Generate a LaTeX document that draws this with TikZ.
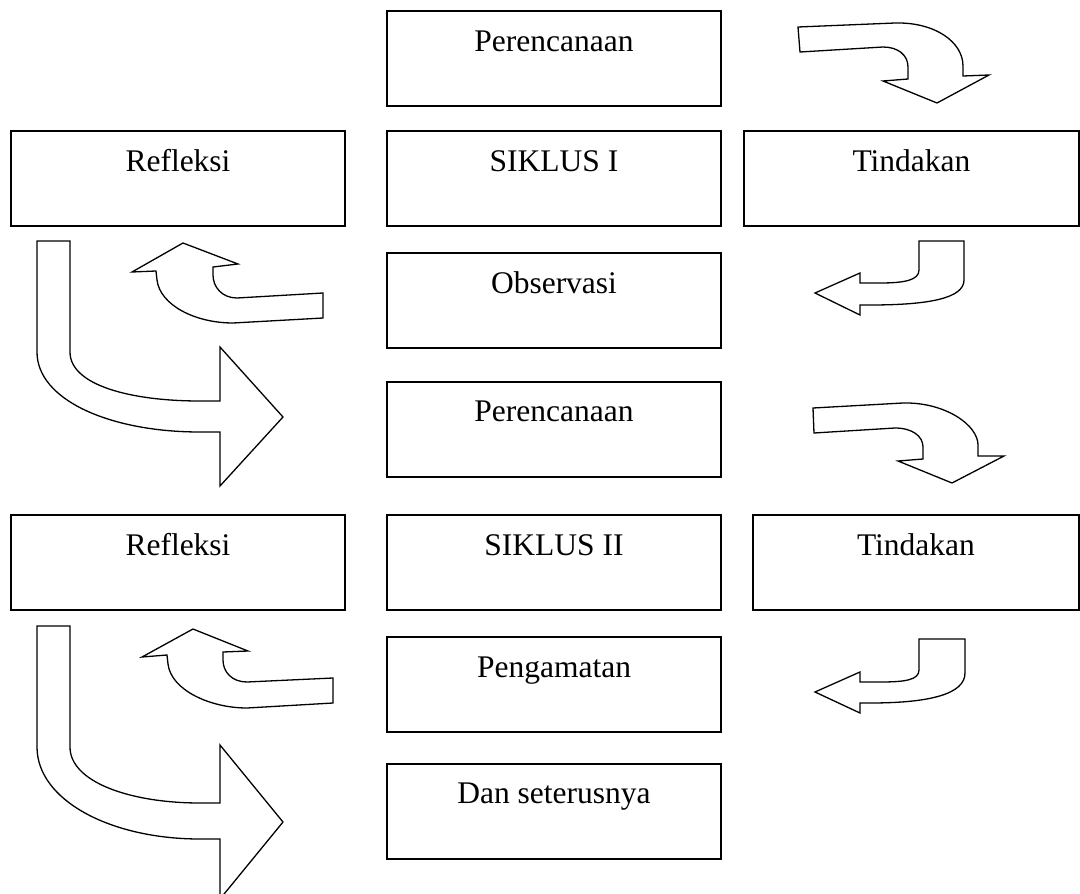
\documentclass[tikz,border=0pt]{standalone}
\usepackage{fontspec}
\setmainfont{Liberation Serif}
\begin{document}
\begin{tikzpicture}[x=1pt,y=-1pt,
  box/.style={draw,line width=2pt,inner sep=0pt,minimum width=334pt,minimum height=95pt},
  txt/.style={anchor=base,inner sep=0pt,font=\fontsize{31.5}{36}\selectfont},
  blockarrow/.style={draw,line width=1.3pt,fill=white,line join=miter}]
\useasboundingbox (0,0) rectangle (1080,894);
% boxes (centres)
\node[box] (p1) at (554,58.5) {};
\node[box] (r1) at (178,178.5) {};
\node[box] (s1) at (554,178.5) {};
\node[box,minimum width=335pt] (t1) at (911.5,178.5) {};
\node[box] (o1) at (554,300.5) {};
\node[box] (p2) at (554,429) {};
\node[box] (r2) at (178,562.5) {};
\node[box] (s2) at (554,562.5) {};
\node[box,minimum width=326pt] (t2) at (916,562.5) {};
\node[box] (o2) at (554,684.5) {};
\node[box] (d2) at (554,811) {};
% texts
\node[txt] (tp1) at ([yshift=-41pt]p1.north) {Perencanaan};
\node[txt] (tr1) at ([yshift=-41pt]r1.north) {Refleksi};
\node[txt] (ts1) at ([yshift=-41pt]s1.north) {SIKLUS I};
\node[txt] (tt1) at ([yshift=-41pt]t1.north) {Tindakan};
\node[txt] (to1) at ([yshift=-41pt]o1.north) {Observasi};
\node[txt] (tp2) at ([yshift=-41pt]p2.north) {Perencanaan};
\node[txt] (tr2) at ([yshift=-41pt]r2.north) {Refleksi};
\node[txt] (ts2) at ([yshift=-41pt]s2.north) {SIKLUS II};
\node[txt] (tt2) at ([yshift=-41pt]t2.north) {Tindakan};
\node[txt] (to2) at ([yshift=-41pt]o2.north) {Pengamatan};
\node[txt] (td2) at ([yshift=-41pt]d2.north) {Dan seterusnya};
% ---------- cycle 1 block arrows ----------
% Perencanaan -> Tindakan (curving down)
\draw[blockarrow] (798,27) -- (895,23) .. controls (935,22) and (963,42) .. (963,66) -- (963,76)
  -- (989,75) -- (937,103) -- (883,81) -- (908,79) -- (908,67)
  .. controls (908,55) and (898,47) .. (883,47) -- (800,52) -- cycle;
% Tindakan -> Observasi (down then left)
\draw[blockarrow] (919,241) -- (964,241) -- (964,280) .. controls (964,298) and (930,305) .. (870,305)
  -- (860,305) -- (860,315) -- (815,293) -- (860,273) -- (860,283) -- (880,283)
  .. controls (905,283) and (919,280) .. (919,270) -- cycle;
% Observasi -> Refleksi (left then up)
\draw[blockarrow] (323,293) -- (237,298) .. controls (222,298) and (213,287) .. (213,275) -- (213,267)
  -- (238,264) -- (183,243) -- (132,272) -- (156,271) -- (157,280)
  .. controls (160,305) and (195,323) .. (233,323) -- (323,318) -- cycle;
% Refleksi -> Perencanaan (big)
\draw[blockarrow] (37,241) -- (70,241) -- (70,352) .. controls (70,385) and (130,401) .. (200,401)
  -- (220,401) -- (220,347) -- (283,417) -- (220,486) -- (220,432) -- (200,432)
  .. controls (110,432) and (37,400) .. (37,352) -- cycle;
% ---------- cycle 2 block arrows ----------
\draw[blockarrow] (813,408) -- (903,403) .. controls (945,402) and (978,425) .. (978,445) -- (978,456)
  -- (1004,456) -- (952,483) -- (898,461) -- (923,459) -- (923,447)
  .. controls (923,436) and (912,428) .. (895,428) -- (814,433) -- cycle;
\draw[blockarrow] (919,639) -- (965,639) -- (965,673) .. controls (965,694) and (930,703) .. (870,703)
  -- (860,703) -- (860,713) -- (815,692) -- (860,672) -- (860,682) -- (880,682)
  .. controls (905,682) and (919,680) .. (919,670) -- cycle;
\draw[blockarrow] (333,678) -- (247,682) .. controls (232,682) and (223,672) .. (223,660) -- (223,652)
  -- (248,651) -- (193,629) -- (142,657) -- (167,655) -- (168,664)
  .. controls (171,690) and (210,708) .. (247,708) -- (333,703) -- cycle;
\draw[blockarrow] (37,626) -- (70,626) -- (70,747) .. controls (70,782) and (130,803) .. (200,803)
  -- (220,803) -- (220,745) -- (283,822) -- (220,899) -- (220,839) -- (200,839)
  .. controls (110,839) and (37,800) .. (37,747) -- cycle;
\end{tikzpicture}
\end{document}
